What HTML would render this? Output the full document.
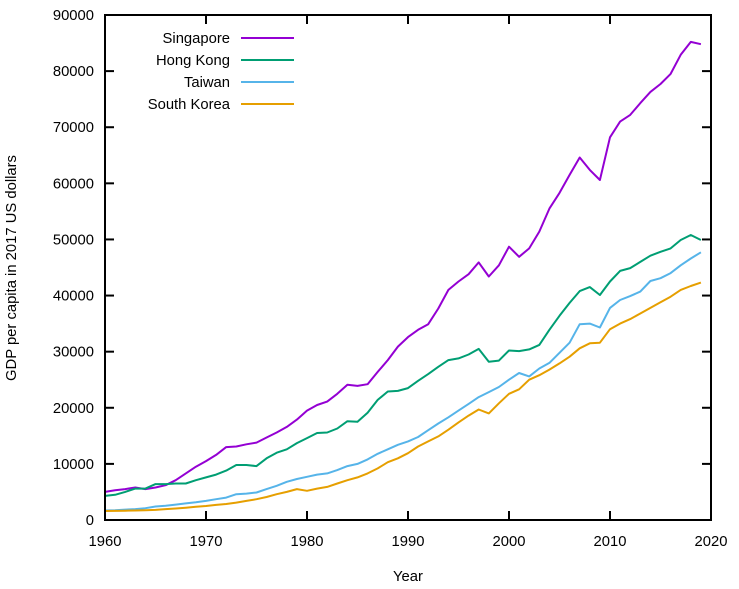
<!DOCTYPE html>
<html><head><meta charset="utf-8"><style>
body{margin:0;background:#fff}
svg{display:block;font-family:"Liberation Sans",Arial,sans-serif;font-size:14.8px}
</style></head><body>
<svg id="chart" width="739" height="589">
<g id="grid"></g>
<g id="series"></g>
<rect x="105" y="15" width="606" height="505" fill="none" stroke="#000" stroke-width="2"/>
<text x="12" y="268" transform="rotate(-90 12 268)" text-anchor="middle" dominant-baseline="middle">GDP per capita in 2017 US dollars</text>
<text x="408" y="581" text-anchor="middle">Year</text>
<g id="legend"></g>
</svg>
<script>
const years=[];for(let y=1960;y<=2019;y++)years.push(y);
const singapore=[5000,5300,5500,5800,5500,5800,6200,7100,8300,9500,10500,11600,13000,13100,13500,13800,14700,15600,16600,17900,19500,20500,21100,22500,24100,23900,24200,26400,28500,30900,32600,33900,34900,37700,41000,42500,43800,45900,43400,45400,48700,46900,48400,51400,55500,58300,61500,64600,62400,60600,68200,71000,72200,74300,76300,77700,79500,82900,85200,84800];
const hongKong=[4300,4500,5000,5600,5600,6400,6400,6500,6500,7100,7600,8100,8800,9800,9800,9600,11000,12000,12600,13700,14600,15500,15600,16300,17600,17500,19100,21400,22900,23000,23500,24800,26000,27300,28500,28800,29500,30500,28200,28400,30200,30100,30400,31200,33900,36400,38700,40800,41500,40100,42500,44400,44900,46000,47100,47800,48400,49900,50800,49900];
const taiwan=[1700,1750,1850,1950,2100,2400,2550,2750,2950,3150,3400,3700,4000,4600,4700,4900,5500,6100,6800,7300,7700,8100,8300,8900,9600,10000,10800,11800,12600,13400,14000,14800,16000,17200,18300,19500,20700,21900,22800,23700,25000,26200,25600,27000,28000,29800,31600,34900,35000,34300,37800,39200,39900,40700,42600,43100,44000,45400,46600,47700];
const southKorea=[1600,1620,1650,1700,1750,1800,1950,2050,2200,2350,2500,2700,2850,3100,3400,3700,4100,4600,5000,5500,5200,5600,5900,6500,7100,7600,8300,9200,10300,11000,11900,13100,14000,14900,16100,17400,18600,19700,19000,20800,22500,23300,25000,25800,26800,27900,29100,30600,31500,31600,34000,35000,35800,36800,37800,38800,39800,41000,41700,42300];
const xTicks=[1960,1970,1980,1990,2000,2010,2020];
const yTicks=[0,10000,20000,30000,40000,50000,60000,70000,80000,90000];
const names=["Singapore","Hong Kong","Taiwan","South Korea"];
const colors=["#9400d3","#009e73","#56b4e9","#e69f00"];
const X0=105,X1=711,Y0=520,Y1=15;
const sx=v=>X0+(v-1960)/60*(X1-X0);
const sy=v=>Y0-v/90000*(Y0-Y1);
const NS="http://www.w3.org/2000/svg";
const grid=document.getElementById('grid');
function mk(t,a,p){const e=document.createElementNS(NS,t);for(const k in a)e.setAttribute(k,a[k]);p.appendChild(e);return e;}
xTicks.forEach(t=>{
 const x=sx(t);
 const a=mk('line',{x1:x,x2:x,y1:Y0,y2:Y0-9,stroke:'#000','stroke-width':2},grid);
 
 
 const b=mk('line',{x1:x,x2:x,y1:Y1,y2:Y1+9,stroke:'#000','stroke-width':2},grid);
 
 
 const l=mk('text',{x:x,y:546,'text-anchor':'middle'},grid);l.textContent=t;
 
 
});
yTicks.forEach(t=>{
 const y=sy(t);
 const a=mk('line',{x1:X0,x2:X0+9,y1:y,y2:y,stroke:'#000','stroke-width':2},grid);
 
 
 const b=mk('line',{x1:X1,x2:X1-9,y1:y,y2:y,stroke:'#000','stroke-width':2},grid);
 
 
 const l=mk('text',{x:94,y:y+5,'text-anchor':'end'},grid);l.textContent=t;
 
 
});
const ser=document.getElementById('series');
const leg=document.getElementById('legend');
[singapore,hongKong,taiwan,southKorea].forEach((d,i)=>{
 const p=mk('polyline',{points:d.map((v,j)=>sx(years[j]).toFixed(1)+','+sy(v).toFixed(1)).join(' '),fill:'none',stroke:colors[i],'stroke-width':2,'stroke-linejoin':'round'},ser);
 
 
 const ly=38+i*22;
 const t=mk('text',{x:230,y:ly+5,'text-anchor':'end'},leg);t.textContent=names[i];
 
 
 const s=mk('line',{x1:241,x2:294,y1:ly,y2:ly,stroke:colors[i],'stroke-width':2},leg);
 
 
});
</script>
</body></html>
